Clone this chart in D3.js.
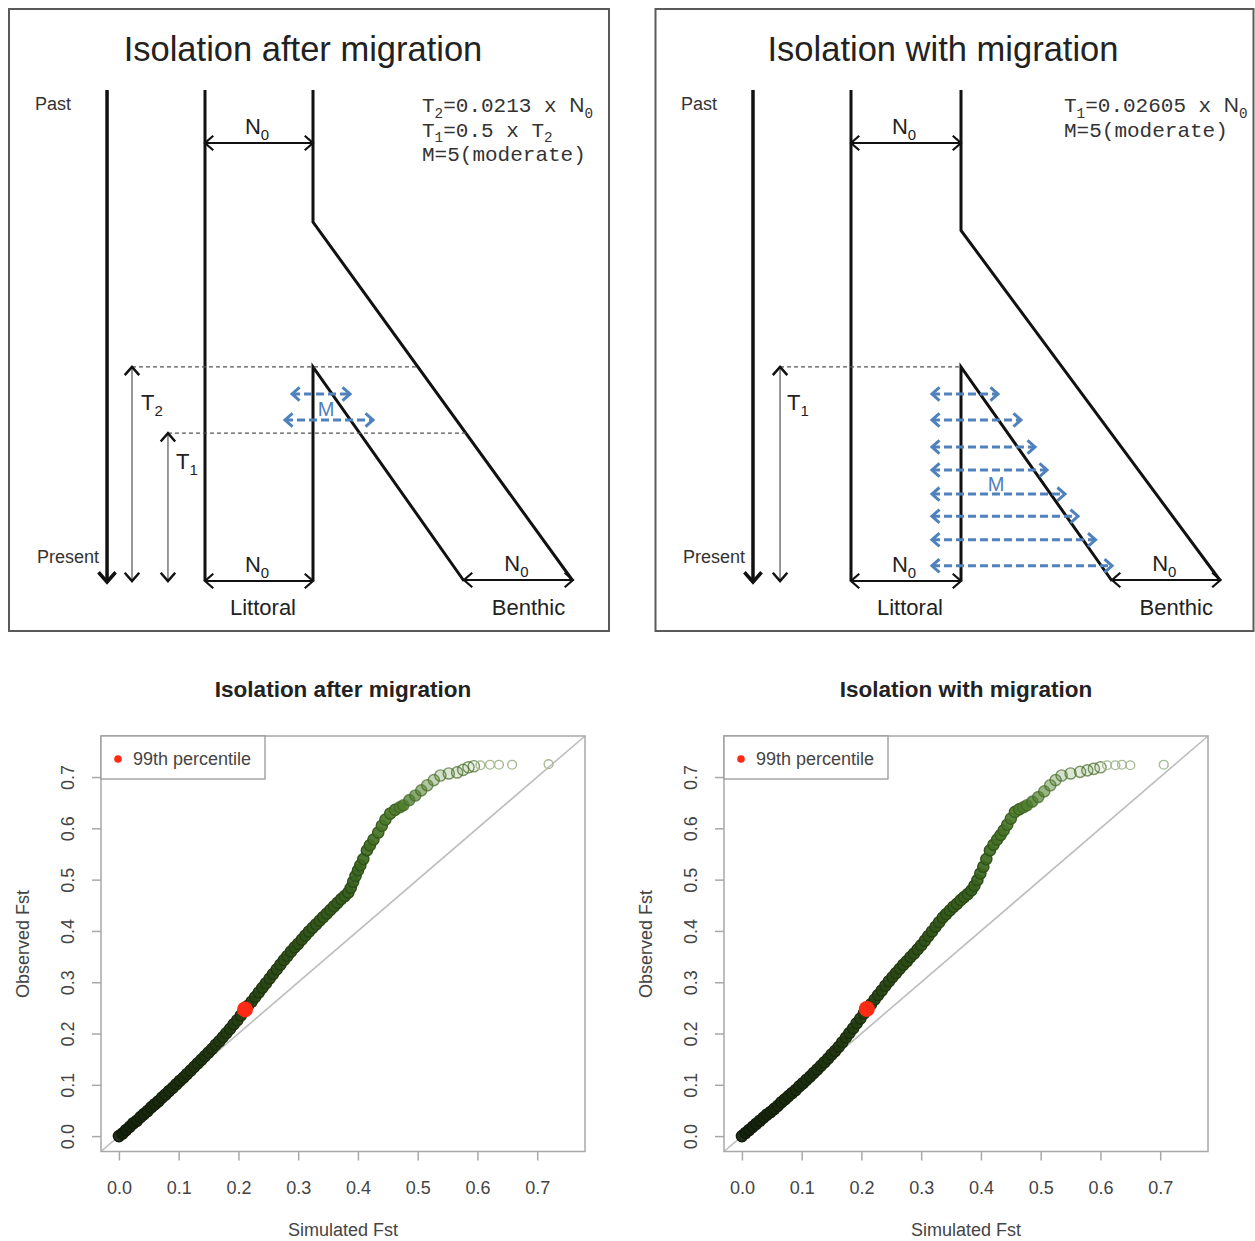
<!DOCTYPE html>
<html><head><meta charset="utf-8">
<script src="https://cdn.jsdelivr.net/npm/d3@7"></script>
<style>body{margin:0;background:#fff}svg{display:block}</style>
</head><body>
<svg id="c" width="1255" height="1241"></svg>
<script>
// ---------------- DATA ----------------
// Q-Q plot: Isolation after migration (simulated vs observed Fst quantiles)
const simFstIAM = [0.000,0.006,0.012,0.018,0.024,0.030,0.036,0.042,0.048,0.054,0.060,0.066,0.072,0.078,0.084,0.090,0.096,0.102,0.108,0.114,0.120,0.126,0.132,0.138,0.144,0.150,0.156,0.162,0.168,0.174,0.180,0.186,0.192,0.198,0.204,0.210,0.216,0.222,0.228,0.234,0.240,0.246,0.252,0.258,0.264,0.270,0.276,0.282,0.288,0.294,0.300,0.306,0.312,0.318,0.324,0.330,0.336,0.342,0.348,0.354,0.360,0.366,0.372,0.378,0.384,0.388,0.392,0.396,0.400,0.404,0.409,0.415,0.420,0.426,0.434,0.440,0.446,0.454,0.462,0.470,0.476,0.486,0.496,0.506,0.516,0.527,0.538,0.552,0.566,0.576,0.585,0.594,0.605,0.621,0.636,0.658,0.719];
const obsFstIAM = [0.000,0.005,0.012,0.018,0.025,0.030,0.037,0.043,0.049,0.056,0.062,0.068,0.075,0.081,0.088,0.094,0.101,0.108,0.114,0.121,0.128,0.135,0.142,0.149,0.156,0.163,0.170,0.178,0.185,0.193,0.201,0.209,0.218,0.226,0.235,0.244,0.254,0.262,0.271,0.280,0.289,0.298,0.307,0.316,0.325,0.334,0.343,0.351,0.360,0.368,0.375,0.383,0.391,0.399,0.406,0.413,0.420,0.427,0.434,0.441,0.448,0.455,0.462,0.468,0.475,0.484,0.496,0.507,0.518,0.528,0.540,0.557,0.567,0.578,0.592,0.605,0.617,0.629,0.636,0.641,0.645,0.655,0.664,0.674,0.684,0.694,0.703,0.707,0.709,0.714,0.719,0.721,0.723,0.724,0.724,0.724,0.725];
// Q-Q plot: Isolation with migration
const simFstIWM = [0.000,0.006,0.012,0.018,0.024,0.030,0.036,0.042,0.048,0.054,0.060,0.066,0.072,0.078,0.084,0.090,0.096,0.102,0.108,0.114,0.120,0.126,0.132,0.138,0.144,0.150,0.156,0.162,0.168,0.174,0.180,0.186,0.192,0.198,0.204,0.210,0.216,0.222,0.228,0.234,0.240,0.246,0.252,0.258,0.264,0.270,0.276,0.282,0.288,0.294,0.300,0.306,0.312,0.318,0.324,0.330,0.336,0.342,0.348,0.354,0.360,0.366,0.372,0.378,0.384,0.389,0.394,0.399,0.404,0.409,0.415,0.421,0.427,0.433,0.438,0.444,0.450,0.457,0.464,0.471,0.477,0.486,0.496,0.506,0.516,0.525,0.535,0.550,0.566,0.578,0.589,0.600,0.611,0.625,0.636,0.650,0.706];
const obsFstIWM = [0.000,0.006,0.012,0.018,0.024,0.030,0.036,0.042,0.047,0.053,0.059,0.066,0.072,0.078,0.084,0.090,0.097,0.103,0.110,0.116,0.123,0.130,0.137,0.144,0.151,0.159,0.166,0.174,0.183,0.192,0.201,0.210,0.220,0.229,0.239,0.248,0.257,0.266,0.275,0.284,0.293,0.302,0.310,0.318,0.326,0.334,0.341,0.349,0.356,0.364,0.372,0.381,0.390,0.399,0.408,0.417,0.426,0.433,0.440,0.447,0.453,0.460,0.466,0.472,0.479,0.488,0.499,0.512,0.525,0.540,0.557,0.568,0.578,0.587,0.596,0.607,0.619,0.632,0.637,0.641,0.645,0.652,0.661,0.672,0.684,0.694,0.703,0.707,0.710,0.713,0.716,0.719,0.723,0.723,0.724,0.723,0.724];
const pct99IAM = [0.211, 0.247];
const pct99IWM = [0.209, 0.248];
const axisTicks = [0.0, 0.1, 0.2, 0.3, 0.4, 0.5, 0.6, 0.7];
const plotTitles = ["Isolation after migration", "Isolation with migration"];
const legendLabel = "99th percentile";
const xAxisLabel = "Simulated Fst";
const yAxisLabel = "Observed Fst";

// Schematic model parameters
const diagramTitles = ["Isolation after migration", "Isolation with migration"];
const paramLinesIAM = [["T","2","=0.0213 x ","N","0"], ["T","1","=0.5 x ","T","2"], ["M=5(moderate)"]];
const paramLinesIWM = [["T","1","=0.02605 x ","N","0"], ["M=5(moderate)"]];
const popLabels = ["Littoral", "Benthic"];
const timeLabels = ["Past", "Present"];

// ---------------- RENDER ----------------
const svg = d3.select("#c");
const SANS = "'Liberation Sans', Arial, Helvetica, sans-serif";
const MONO = "'Liberation Mono', 'Courier New', monospace";
const BLUE = "#4f81bd";

function chevron(g, tip, dir, len, color, w) {
  const a = 0.72;
  const p1 = [tip[0] - len*Math.cos(dir - a), tip[1] - len*Math.sin(dir - a)];
  const p2 = [tip[0] - len*Math.cos(dir + a), tip[1] - len*Math.sin(dir + a)];
  g.append("path").attr("d", d3.line()([p1, tip, p2]))
    .attr("fill","none").attr("stroke",color).attr("stroke-width",w)
    .attr("stroke-linejoin","miter").attr("stroke-linecap","butt");
}
function arrow(g, p0, p1, o) {
  const ln = g.append("line").attr("x1",p0[0]).attr("y1",p0[1]).attr("x2",p1[0]).attr("y2",p1[1])
    .attr("stroke",o.color).attr("stroke-width",o.width);
  if (o.dash) ln.attr("stroke-dasharray",o.dash);
  if (o.end) chevron(g, p1, Math.atan2(p1[1]-p0[1], p1[0]-p0[0]), o.headLen, o.headColor||o.color, o.headW||o.width);
  if (o.start) chevron(g, p0, Math.atan2(p0[1]-p1[1], p0[0]-p1[0]), o.headLen, o.headColor||o.color, o.headW||o.width);
}
function subText(g, x, y, parts, size, family, color, anchor) {
  const t = g.append("text").attr("x",x).attr("y",y).attr("font-family",family)
    .attr("font-size",size).attr("fill",color).attr("text-anchor",anchor||"start");
  parts.forEach((p,i) => {
    if (p.sub) t.append("tspan").attr("dy", size*0.28).attr("font-size", size*0.68).text(p.s);
    else t.append("tspan").attr("dy", i>0 && parts[i-1].sub ? -size*0.28 : 0).attr("font-family", p.fam||null).text(p.s);
  });
  return t;
}

function diagram(spec) {
  const g = svg.append("g");
  const X = d3.scaleLinear().domain([0,1]).range(spec.xRange);
  const T = d3.scaleLinear().domain([0,1]).range([581, 90]);
  g.append("rect").attr("x",spec.box[0]).attr("y",spec.box[1]).attr("width",spec.box[2]).attr("height",spec.box[3])
    .attr("fill","#fff").attr("stroke","#5a5a5a").attr("stroke-width",2);
  g.append("text").attr("x",spec.titleX).attr("y",61).attr("text-anchor","middle")
    .attr("font-family",SANS).attr("font-size",34.5).attr("fill","#222").text(spec.title);
  g.append("text").attr("x",spec.pastX).attr("y",110).attr("font-family",SANS).attr("font-size",18).attr("fill","#333").text(timeLabels[0]);
  g.append("text").attr("x",spec.presentX).attr("y",563).attr("font-family",SANS).attr("font-size",18).attr("fill","#333").text(timeLabels[1]);
  arrow(g, [X(spec.timeArrowX), T(1)], [X(spec.timeArrowX), T(0)+1], {color:"#111", width:3.5, end:true, headLen:13, headW:3.5});
  const path = (pts) => g.append("path").attr("d", d3.line()(pts)).attr("fill","none").attr("stroke","#111").attr("stroke-width",3).attr("stroke-linejoin","miter");
  path([[X(0),T(1)],[X(0),T(0)]]);
  path([[X(1),T(1)],[X(1),T(spec.cornerT)],[X(spec.outerEndX),T(0)]]);
  path([[X(1),T(0)],[X(1),T(spec.innerT)],[X(spec.innerEndX),T(0)]]);
  const outerAt = t => 1 + (spec.outerEndX - 1) * (spec.cornerT - t) / spec.cornerT;
  spec.tArrows.forEach(a => {
    const xe = a.dashTo === "inner" ? X(1) : X(outerAt(a.t));
    g.append("line").attr("x1",X(a.x)).attr("x2",xe).attr("y1",T(a.t)).attr("y2",T(a.t))
      .attr("stroke","#555").attr("stroke-width",1.2).attr("stroke-dasharray","4,3");
    arrow(g, [X(a.x), T(a.t)], [X(a.x), T(0)], {color:"#777", width:1.5, headColor:"#111", headW:2.5, headLen:11, start:true, end:true});
    subText(g, X(a.x)+a.lx, T(a.t)+a.ly, [{s:"T"},{s:a.sub,sub:true}], 22, SANS, "#222");
  });
  const nArrow = (xa, xb, ty) => {
    arrow(g, [xa, ty], [xb, ty], {color:"#111", width:2, start:true, end:true, headLen:11, headW:2.2});
    subText(g, (xa+xb)/2 - 2, ty - 9, [{s:"N"},{s:"0",sub:true}], 22, SANS, "#222", "middle");
  };
  nArrow(X(0), X(1), 143);
  nArrow(X(0), X(1), T(0));
  nArrow(X(spec.innerEndX), X(spec.outerEndX), T(0)-1);
  g.append("text").attr("x",(X(0)+X(1))/2+4).attr("y",615).attr("text-anchor","middle").attr("font-family",SANS).attr("font-size",22).attr("fill","#222").text(popLabels[0]);
  g.append("text").attr("x",(X(spec.innerEndX)+X(spec.outerEndX))/2+10).attr("y",615).attr("text-anchor","middle").attr("font-family",SANS).attr("font-size",22).attr("fill","#222").text(popLabels[1]);
  spec.mT.forEach((t,i) => {
    arrow(g, [X(spec.mX0[i]), T(t)], [X(spec.mX1[i]), T(t)], {color:BLUE, width:3, dash:"8,4", start:true, end:true, headLen:10, headW:3});
  });
  g.append("text").attr("x",spec.mLabel[0]).attr("y",spec.mLabel[1]).attr("text-anchor","middle")
    .attr("font-family",SANS).attr("font-size",20).attr("fill",BLUE).text("M");
  spec.params.forEach((line,i) => {
    const parts = [];
    if (line.length === 1) parts.push({s:line[0]});
    else { parts.push({s:line[0]}); parts.push({s:line[1],sub:true}); parts.push({s:line[2]});
      parts.push({s:line[3], fam: line[3]==="N" ? SANS : null}); parts.push({s:line[4],sub:true}); }
    subText(g, spec.paramX, 112 + i*24.5, parts, 21, MONO, "#333");
  });
}

diagram({
  title: diagramTitles[0], titleX: 303, box:[9,9,600,622], xRange:[205,313],
  pastX:35, presentX:37, timeArrowX:-0.907, cornerT:0.731, outerEndX:3.407, innerT:0.436, innerEndX:2.398,
  tArrows:[{x:-0.676, t:0.436, sub:"2", lx:9, ly:43}, {x:-0.343, t:0.301, sub:"1", lx:8, ly:36}],
  mT:[0.381, 0.328], mX0:[0.806, 0.741], mX1:[1.343, 1.556], mLabel:[326, 416],
  params: paramLinesIAM, paramX: 422
});
diagram({
  title: diagramTitles[1], titleX: 943, box:[655.5,9,598,622], xRange:[851,961],
  pastX:681, presentX:683, timeArrowX:-0.891, cornerT:0.714, outerEndX:3.359, innerT:0.436, innerEndX:2.373,
  tArrows:[{x:-0.645, t:0.436, sub:"1", lx:7, ly:43, dashTo:"inner"}],
  mT:[0.381,0.328,0.273,0.226,0.177,0.132,0.084,0.031], mX0:[0.736,0.736,0.736,0.736,0.736,0.736,0.736,0.736],
  mX1:[1.336,1.545,1.673,1.782,1.945,2.064,2.223,2.373], mLabel:[996, 491],
  params: paramLinesIWM, paramX: 1064
});

// ---------------- Q-Q PLOTS ----------------
const fillRamp = d3.scaleLinear().domain([0, 0.3, 0.55, 0.7]).range(["#14200a","#284513","#3d6a20","#5a8935"]).clamp(true);
function qq(ox, sim, obs, pct, title, ylabX) {
  const g = svg.append("g");
  const x = d3.scaleLinear().domain([-0.03, 0.78]).range([ox, ox + 484]);
  const y = d3.scaleLinear().domain([-0.03, 0.78]).range([1151.5, 736]);
  const cx = ox + 242;
  g.append("text").attr("x",cx).attr("y",697).attr("text-anchor","middle").attr("font-family",SANS)
    .attr("font-weight","bold").attr("font-size",22.5).attr("fill","#222").text(title);
  g.append("line").attr("x1",x(-0.03)).attr("y1",y(-0.03)).attr("x2",x(0.78)).attr("y2",y(0.78))
    .attr("stroke","#bdbdbd").attr("stroke-width",1.6);
  const pts = sim.map((s,i) => ({s, o: obs[i]}));
  const tail = d => d.o >= 0.722;
  g.append("g").selectAll("circle").data(pts).join("circle")
    .attr("cx", d => x(d.s)).attr("cy", d => y(d.o)).attr("r", d => tail(d) ? 4.4 : 5.6)
    .attr("fill", d => fillRamp(d.o))
    .attr("fill-opacity", d => tail(d) ? 0 : d.o > 0.64 ? 0.9*(0.722 - d.o)/0.082 + 0.05 : 0.92)
    .attr("stroke", d => tail(d) ? "#a6bb94" : d3.color(fillRamp(d.o)).darker(0.7).formatHex())
    .attr("stroke-opacity", d => tail(d) ? 1 : d.o > 0.64 ? 0.7 : 1)
    .attr("stroke-width", 1.4);
  g.append("circle").attr("cx", x(pct[0])).attr("cy", y(pct[1])).attr("r", 8).attr("fill", "#ff2a14");
  g.append("rect").attr("x",ox).attr("y",736).attr("width",484).attr("height",415.5)
    .attr("fill","none").attr("stroke","#a8a8a8").attr("stroke-width",1.5);
  const fmt = d3.format(".1f");
  const ax = g.append("g").attr("transform",`translate(0,1151.5)`)
    .call(d3.axisBottom(x).tickValues(axisTicks).tickSize(9).tickPadding(21).tickFormat(fmt));
  ax.select(".domain").remove();
  ax.selectAll("line").attr("stroke","#a8a8a8").attr("stroke-width",1.5);
  ax.selectAll("text").attr("font-family",SANS).attr("font-size",18).attr("fill","#444");
  const ay = g.append("g").attr("transform",`translate(${ox},0)`)
    .call(d3.axisLeft(y).tickValues(axisTicks).tickSize(9).tickFormat(fmt));
  ay.select(".domain").remove();
  ay.selectAll("line").attr("stroke","#a8a8a8").attr("stroke-width",1.5);
  ay.selectAll("text").attr("font-family",SANS).attr("font-size",18).attr("fill","#444")
    .attr("text-anchor","middle").attr("transform","rotate(-90)").attr("x",0).attr("y",-27.5).attr("dy",0);
  g.append("text").attr("x",cx).attr("y",1236).attr("text-anchor","middle").attr("font-family",SANS)
    .attr("font-size",18).attr("fill","#444").text(xAxisLabel);
  g.append("text").attr("transform",`translate(${ylabX},944) rotate(-90)`).attr("text-anchor","middle")
    .attr("font-family",SANS).attr("font-size",18).attr("fill","#444").text(yAxisLabel);
  g.append("rect").attr("x",ox).attr("y",736).attr("width",164).attr("height",43)
    .attr("fill","#fff").attr("stroke","#999").attr("stroke-width",1.3);
  g.append("circle").attr("cx",ox+17).attr("cy",759).attr("r",3.8).attr("fill","#ff2a14");
  g.append("text").attr("x",ox+32).attr("y",765).attr("font-family",SANS).attr("font-size",18)
    .attr("fill","#444").text(legendLabel);
}
qq(101, simFstIAM, obsFstIAM, pct99IAM, plotTitles[0], 28.5);
qq(724, simFstIWM, obsFstIWM, pct99IWM, plotTitles[1], 651.5);
</script>
</body></html>
